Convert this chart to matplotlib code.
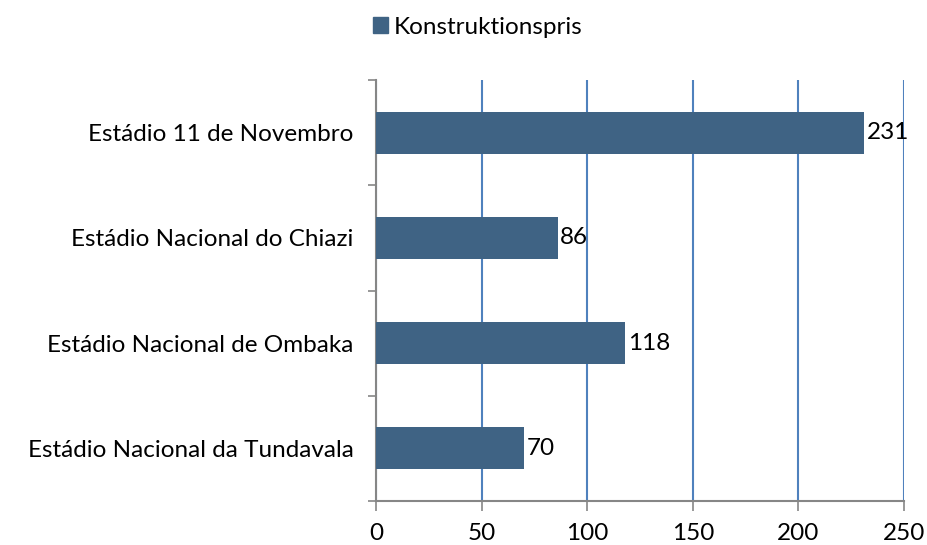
import matplotlib
matplotlib.use("Agg")
import matplotlib.pyplot as plt
from matplotlib.patches import Patch

categories = ["Estádio 11 de Novembro", "Estádio Nacional do Chiazi",
              "Estádio Nacional de Ombaka", "Estádio Nacional da Tundavala"]
values = [231, 86, 118, 70]
series_name = "Konstruktionspris"
xticks = [0, 50, 100, 150, 200, 250]

plt.rcParams['font.family'] = ['Lato', 'DejaVu Sans']
FS = 17.5

fig = plt.figure(figsize=(9.27, 5.45), dpi=100)
ax = fig.add_axes([376/927, 1-501/545, (904-376)/927, (501-80)/545])

bar_color = "#3F6384"
n = len(categories)
ypos = list(range(n))[::-1]
ax.barh(ypos, values, height=0.4, color=bar_color, zorder=3)
for y, v in zip(ypos, values):
    ax.text(v + 1.2, y, str(v), va='center', ha='left', fontsize=FS, color='black', zorder=4)

ax.set_xlim(0, 250)
ax.set_ylim(-0.5, n - 0.5)
ax.set_xticks(xticks)
ax.set_xticklabels([str(t) for t in xticks], fontsize=FS)
ax.set_yticks([i - 0.5 for i in range(n + 1)])
ax.set_yticklabels([])
ax.set_yticks(ypos, minor=True)
ax.set_yticklabels(categories, minor=True, fontsize=FS)
ax.tick_params(axis='y', which='minor', length=0, pad=16)
ax.tick_params(axis='y', which='major', length=6, color='#868686', width=1.2)
ax.tick_params(axis='x', length=7, color='#868686', width=1.2, pad=9)

ax.grid(axis='x', color='#4F81BD', linewidth=1.5, zorder=0)
for s in ['top', 'right']:
    ax.spines[s].set_visible(False)
for s in ['left', 'bottom']:
    ax.spines[s].set_color('#868686')
    ax.spines[s].set_linewidth(1.5)

fig.legend(handles=[Patch(color=bar_color, label=series_name)],
           loc='center', bbox_to_anchor=(478/927, 1-27/545), frameon=False,
           fontsize=FS, handlelength=0.6, handleheight=0.6, handletextpad=0.25,
           borderpad=0, borderaxespad=0)

fig.savefig("out.png", dpi=100)
